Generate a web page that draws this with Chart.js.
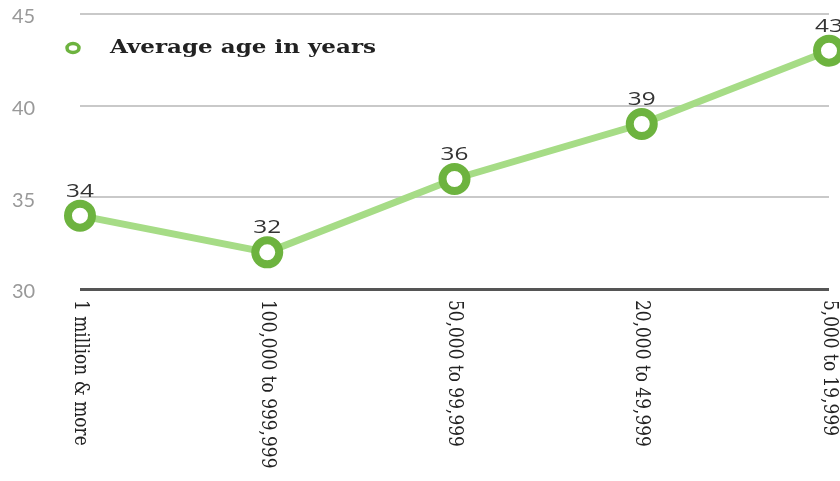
<!DOCTYPE html>
<html>
<head>
<meta charset="utf-8">
<script src="https://cdn.jsdelivr.net/npm/chart.js@4/dist/chart.umd.min.js"></script>
<style>
  html, body { margin: 0; padding: 0; background: #fff; }
  canvas { display: block; }
</style>
</head>
<body>
<canvas id="ageChart" width="840" height="481"></canvas>
<script>
// Chart data
const categories = ['1 million & more', '100,000 to 999,999', '50,000 to 99,999', '20,000 to 49,999', '5,000 to 19,999'];
const averageAge = [34, 32, 36, 39, 43];
const seriesName = 'Average age in years';
const yTicks = [30, 35, 40, 45];

const ringColor = '#6db33f';
const lineColor = '#a6dc86';

// Value labels, rotated x labels and the legend (the source image is stretched sideways)
const labelPlugin = {
    id: 'labelPlugin',
    afterDatasetsDraw(chart) {
        const ctx = chart.ctx;
        const area = chart.chartArea;
        const meta = chart.getDatasetMeta(0);

        ctx.save();
        ctx.fillStyle = '#333';
        ctx.font = '18px "Open Sans", sans-serif';
        ctx.textAlign = 'center';
        ctx.textBaseline = 'middle';
        meta.data.forEach(function(pt, i) {
            ctx.save();
            ctx.translate(pt.x, pt.y - 24);
            ctx.scale(1.35, 1);
            ctx.fillText(averageAge[i], 0, 0);
            ctx.restore();
        });
        ctx.restore();

        const xScale = chart.scales.x;
        ctx.save();
        ctx.fillStyle = '#222';
        ctx.font = '17px "DejaVu Serif", serif';
        ctx.textAlign = 'left';
        ctx.textBaseline = 'middle';
        categories.forEach(function(label, i) {
            const x = xScale.getPixelForTick(i);
            ctx.save();
            ctx.translate(x, area.bottom + 11);
            ctx.rotate(Math.PI / 2);
            ctx.scale(1, 1.2);
            ctx.fillText(label, 0, 0);
            ctx.restore();
        });
        ctx.restore();

        // legend
        ctx.save();
        const ly = area.top + 34;
        ctx.beginPath();
        ctx.ellipse(area.left - 7, ly, 6, 4.5, 0, 0, Math.PI * 2);
        ctx.fillStyle = '#fff';
        ctx.fill();
        ctx.lineWidth = 3.5;
        ctx.strokeStyle = ringColor;
        ctx.stroke();
        ctx.fillStyle = '#222';
        ctx.font = 'bold 19px "DejaVu Serif", serif';
        ctx.textAlign = 'left';
        ctx.textBaseline = 'middle';
        const w = ctx.measureText(seriesName).width;
        ctx.translate(area.left + 30, ly);
        ctx.scale(266 / w, 1);
        ctx.fillText(seriesName, 0, 0);
        ctx.restore();
    }
};

document.addEventListener('DOMContentLoaded', function() {
    const ctx = document.getElementById('ageChart').getContext('2d');
    new Chart(ctx, {
        type: 'line',
        data: {
            labels: categories,
            datasets: [{
                label: seriesName,
                data: averageAge,
                borderColor: lineColor,
                borderWidth: 7,
                pointRadius: 12,
                pointHoverRadius: 12,
                pointBorderWidth: 8,
                pointBorderColor: ringColor,
                pointBackgroundColor: '#fff',
                clip: false,
                tension: 0
            }]
        },
        options: {
            responsive: false,
            animation: false,
            layout: {
                autoPadding: false,
                padding: { top: 14, right: 11, bottom: 192, left: 12 }
            },
            scales: {
                x: {
                    display: false,
                    offset: false
                },
                y: {
                    min: 30,
                    max: 45,
                    afterFit: function(scale) { scale.width = 68; },
                    afterBuildTicks: function(scale) {
                        scale.ticks = yTicks.map(v => ({ value: v }));
                    },
                    grid: {
                        drawTicks: false,
                        lineWidth: function(c) {
                            return c.tick && c.tick.value === 30 ? 3 : 2;
                        },
                        color: function(c) {
                            return c.tick && c.tick.value === 30 ? '#555' : '#c9c9c9';
                        }
                    },
                    border: { display: false },
                    ticks: {
                        padding: 0,
                        labelOffset: 3,
                        crossAlign: 'far',
                        color: '#999',
                        font: { family: 'Lato', size: 20 }
                    }
                }
            },
            plugins: {
                legend: { display: false },
                tooltip: { enabled: false }
            }
        },
        plugins: [labelPlugin]
    });
});
</script>
</body>
</html>
